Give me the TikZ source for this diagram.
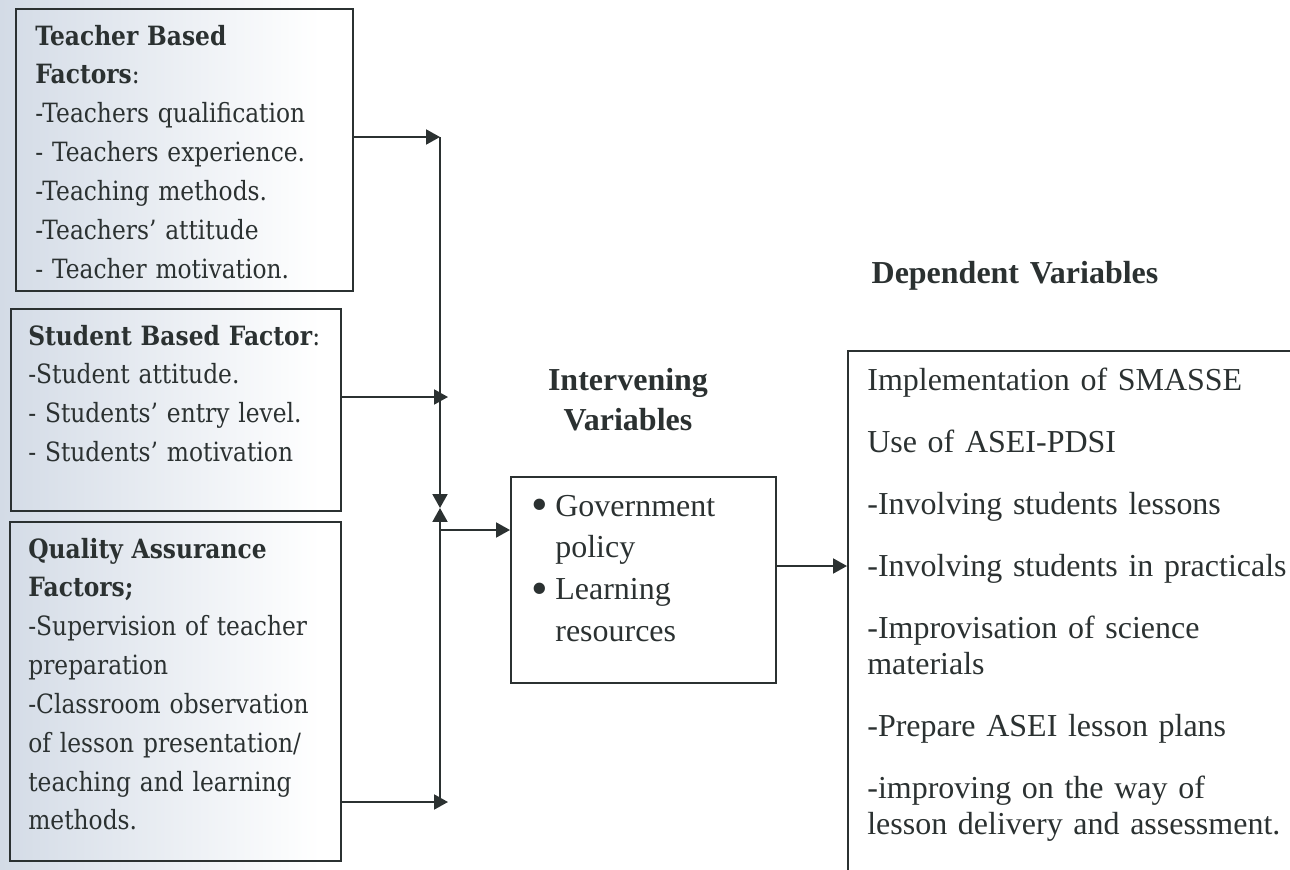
\documentclass[tikz,border=0pt]{standalone}
\usepackage{fontspec}
\setmainfont{Liberation Serif}
\newfontfamily\camfont{DejaVu Serif}[FakeStretch=0.88]
\usetikzlibrary{arrows.meta}
\definecolor{ink}{HTML}{2B3131}
\definecolor{haze}{HTML}{D3DBE6}
\newcommand{\bigbullet}{\makebox[0.48cm][l]{\raisebox{-2.6pt}{\fontsize{27pt}{0pt}\selectfont\textbullet}}}
\tikzset{%
  arr/.style = {-{Triangle[length=7.9pt,width=8.5pt]},line width=1.1pt,draw=ink},
  box/.style = {draw=ink,line width=1.1pt,anchor=north west,inner sep=0pt},
  txt/.style = {anchor=base west,inner sep=0pt,text width=6cm,align=left,
        text=ink,font=\camfont\fontsize{15.1pt}{22.1pt}\selectfont},
  dtxt/.style = {anchor=base west,inner sep=0pt,text width=8.8cm,align=left,
        text=ink,font=\fontsize{18.2pt}{20.5pt}\selectfont},
  ttl/.style = {anchor=base,inner sep=0pt,align=center,text=ink,
        font=\bfseries\fontsize{18.2pt}{23.3pt}\selectfont}
}

\begin{document}
\begin{tikzpicture}[x=0.2mm,y=-0.2mm]
  \path[use as bounding box,clip] (0,0) rectangle (1290,870);
  \shade[left color=haze,right color=white] (0,0) rectangle (320,870);

  % independent variables
  \node[box,minimum width=6.74cm,minimum height=5.64cm] (teacher) at (15,8) {};
  \node[txt] (teachertxt) at (35,45) {\textbf{Teacher Based}\\\textbf{Factors}:\\-Teachers qualification\\- Teachers experience.\\-Teaching methods.\\-Teachers’ attitude\\- Teacher motivation.};
  \node[box,minimum width=6.6cm,minimum height=4.04cm] (student) at (10,308) {};
  \node[txt] (studenttxt) at (28,345) {\textbf{Student Based Factor}:\\-Student attitude.\\- Students’ entry level.\\- Students’ motivation};
  \node[box,minimum width=6.62cm,minimum height=6.78cm] (quality) at (9,521) {};
  \node[txt] (qualitytxt) at (28,558) {\textbf{Quality Assurance}\\\textbf{Factors;}\\-Supervision of teacher\\preparation\\-Classroom observation\\of lesson presentation/\\teaching and learning\\methods.};

  % intervening variables
  \node[ttl,text width=4cm] (inttitle) at (628,390) {Intervening\\Variables};
  \node[box,minimum width=5.3cm,minimum height=4.12cm] (interv) at (510,476) {};
  \node[dtxt,text width=4.6cm,font=\fontsize{18.2pt}{23.8pt}\selectfont] (intervtxt) at (531,516)
    {\bigbullet Government\\\hspace*{0.48cm}policy\\\bigbullet Learning\\\hspace*{0.48cm}resources};

  % dependent variables
  \node[ttl,text width=6.4cm] (deptitle) at (1015,283) {Dependent Variables};
  \node[box,minimum width=9.1cm,minimum height=10.8cm] (dep) at (847,350) {};
  \node[dtxt] (deptxt) at (867,390) {Implementation of SMASSE\\[0.52cm]Use of ASEI-PDSI\\[0.52cm]-Involving students lessons\\[0.52cm]-Involving students in practicals\\[0.52cm]-Improvisation of science\\materials\\[0.52cm]-Prepare ASEI lesson plans\\[0.52cm]-improving on the way of\\lesson delivery and assessment.};

  % connectors
  \coordinate (j1) at (440,137);
  \coordinate (j2) at (448,397);
  \coordinate (j3) at (448,802);
  \coordinate (jb) at (440,802);
  \coordinate (jm) at (440,508);
  \coordinate (jo) at (440,530);
  \coordinate (jd) at (0,566);
  \draw[arr] (teacher.east |- j1) -- (j1);
  \draw[arr] (student.east |- j2) -- (j2);
  \draw[arr] (quality.east |- j3) -- (j3);
  \draw[arr] (j1) -- (jm);
  \draw[arr] (jb) -- (jm);
  \draw[arr] (jo) -- (jo -| interv.west);
  \draw[arr] (interv.east |- jd) -- (dep.west |- jd);
\end{tikzpicture}
\end{document}
